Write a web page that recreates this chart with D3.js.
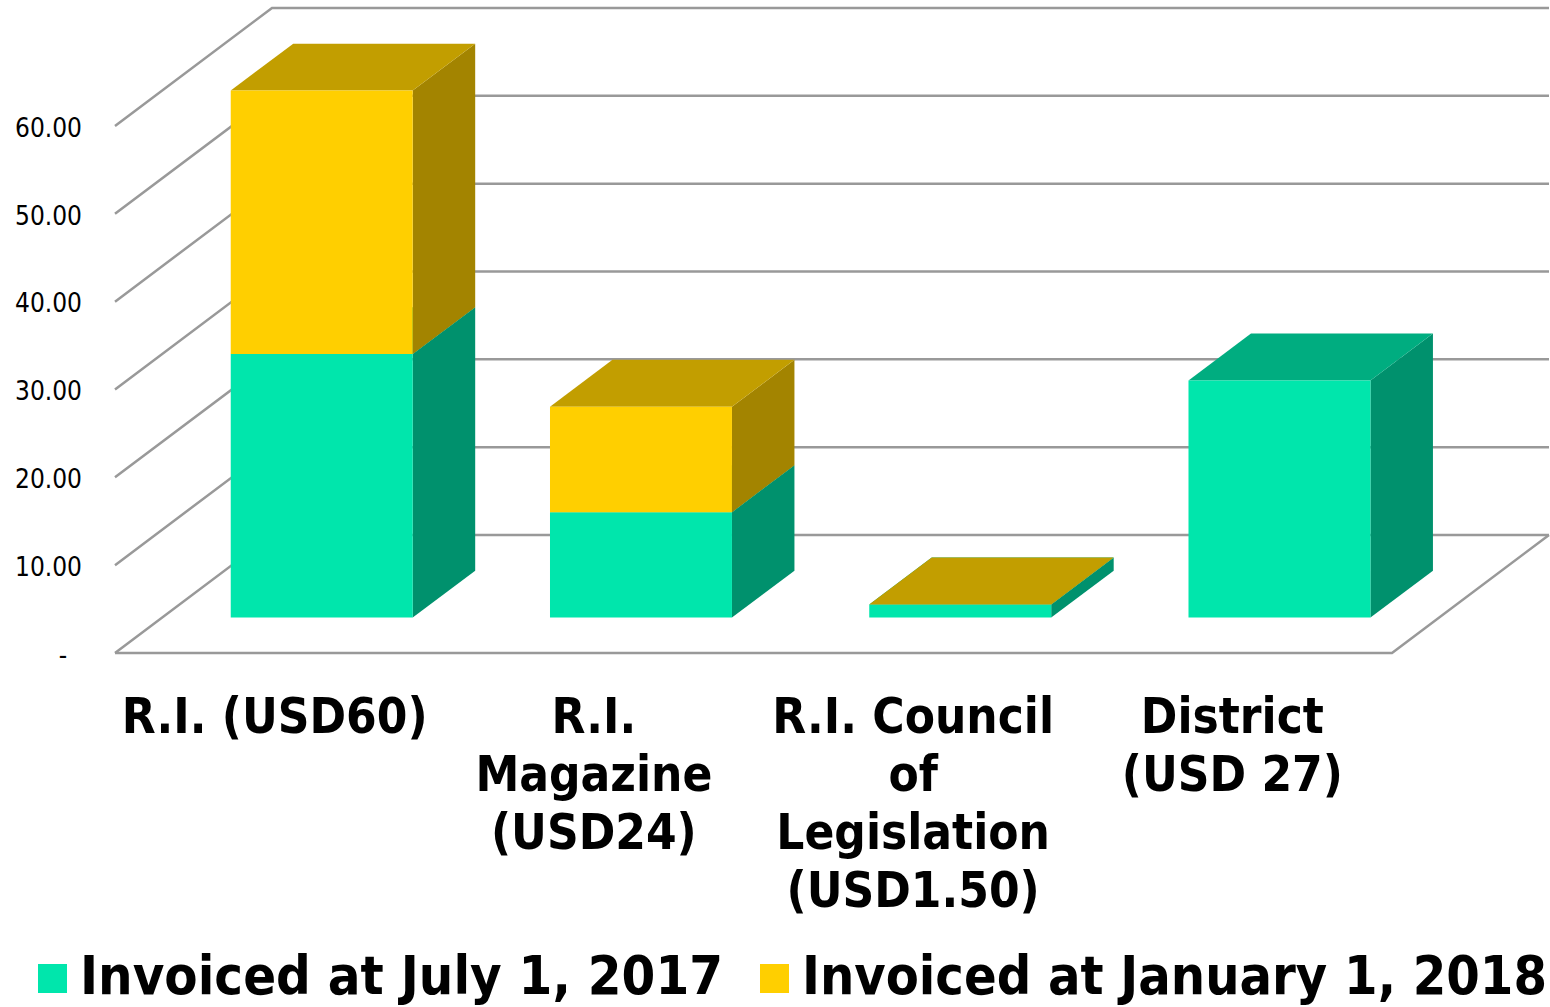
<!DOCTYPE html>
<html>
<head>
<meta charset="utf-8">
<script src="https://cdn.jsdelivr.net/npm/d3@7"></script>
<style>
  html, body { margin: 0; padding: 0; background: #fff; }
  svg { display: block; }
  text { font-family: "DejaVu Sans Condensed", "DejaVu Sans", sans-serif; fill: #000; }
</style>
</head>
<body>
<script>
const categories = ['R.I. (USD60)', 'R.I. Magazine (USD24)', 'R.I. Council of Legislation (USD1.50)', 'District (USD 27)'];
const categoryLines = [['R.I. (USD60)'], ['R.I.', 'Magazine', '(USD24)'], ['R.I. Council', 'of', 'Legislation', '(USD1.50)'], ['District', '(USD 27)']];
const invoicedJuly = [30, 12, 1.5, 27];
const invoicedJanuary = [30, 12, 0, null];
const seriesNames = ['Invoiced at July 1, 2017', 'Invoiced at January 1, 2018'];
const tickValues = [0, 10, 20, 30, 40, 50, 60];
const tickLabels = ['-\u00a0\u00a0', '10.00', '20.00', '30.00', '40.00', '50.00', '60.00'];

const width = 1550, height = 1007;
const left = 115, right = 1392, floorY = 653;
const depthX = 157, depthY = 118;
const barFront = 0.3, barBack = 0.698;   // how far into the floor the bars sit

const colours = [
  { front: '#00e6ac', side: '#00916d', top: '#00ad80' },
  { front: '#ffcf00', side: '#a38400', top: '#c29e00' }
];

const svg = d3.select('body').append('svg').attr('width', width).attr('height', height);

const xScale = d3.scaleBand().domain(categories).range([left, right]).paddingInner(0.43).paddingOuter(0.215);
const yScale = d3.scaleLinear().domain([0, 60]).range([floorY, floorY - 527]);

// project a point on the front plane back into the chart depth
const project = (x, y, d) => [x + depthX * d, y - depthY * d];
const poly = (points) => 'M' + points.map((p) => p.join(',')).join('L') + 'Z';

// walls and floor
const grid = svg.append('g').attr('fill', 'none').attr('stroke', '#999999').attr('stroke-width', 2.5);
grid.selectAll('path.wall')
  .data(tickValues)
  .join('path')
  .attr('class', 'wall')
  .attr('d', (v) => {
    const back = project(left, yScale(v), 1);
    return d3.line()([[left, yScale(v)], back, [back[0] + right - left, back[1]]]);
  });
grid.append('path')
  .attr('d', d3.line()([[left, floorY], [right, floorY], project(right, floorY, 1)]));

// y axis labels
const yAxis = svg.append('g')
  .attr('transform', `translate(${left},2)`)
  .call(d3.axisLeft(yScale).tickValues(tickValues).tickSize(0).tickPadding(33)
    .tickFormat((v) => tickLabels[tickValues.indexOf(v)]));
yAxis.select('.domain').remove();
yAxis.selectAll('text').attr('font-size', 26).attr('font-family', '"DejaVu Sans Condensed", "DejaVu Sans", sans-serif');

// stacked 3d bars
const rows = categories.map((c, i) => ({ category: c, july: invoicedJuly[i], january: invoicedJanuary[i] }));
const stacked = d3.stack().keys(['july', 'january'])(rows);

categories.forEach((c, i) => {
  const bar = svg.append('g');
  stacked.forEach((layer, s) => {
    if (rows[i][layer.key] === null) return;
    const x0 = xScale(c), x1 = x0 + xScale.bandwidth();
    const y0 = yScale(layer[i][0]), y1 = yScale(layer[i][1]);
    const a = (x, y) => project(x, y, barFront);
    const b = (x, y) => project(x, y, barBack);
    bar.append('path').attr('fill', colours[s].side)
      .attr('d', poly([a(x1, y1), b(x1, y1), b(x1, y0), a(x1, y0)]));
    bar.append('path').attr('fill', colours[s].top)
      .attr('d', poly([a(x0, y1), b(x0, y1), b(x1, y1), a(x1, y1)]));
    bar.append('path').attr('fill', colours[s].front)
      .attr('d', poly([a(x0, y1), a(x1, y1), a(x1, y0), a(x0, y0)]));
  });
});

// category labels
categories.forEach((c, i) => {
  svg.append('text')
    .attr('text-anchor', 'middle')
    .attr('font-size', 49)
    .attr('font-weight', 'bold')
    .selectAll('tspan')
    .data(categoryLines[i])
    .join('tspan')
    .attr('x', xScale(c) + xScale.bandwidth() / 2)
    .attr('y', (d, j) => 733 + j * 58)
    .text((d) => d);
});

// legend, baseline raised a little so the descenders stay on the page
const legendX = [38, 760];
const legendTextWidth = [643, 745];
seriesNames.forEach((name, i) => {
  svg.append('rect')
    .attr('x', legendX[i]).attr('y', 964).attr('width', 29).attr('height', 29)
    .attr('fill', colours[i].front);
  svg.append('text')
    .attr('x', legendX[i] + 42).attr('y', 994)
    .attr('font-size', 53).attr('font-weight', 'bold')
    .attr('textLength', legendTextWidth[i]).attr('lengthAdjust', 'spacingAndGlyphs')
    .text(name);
});
</script>
</body>
</html>
